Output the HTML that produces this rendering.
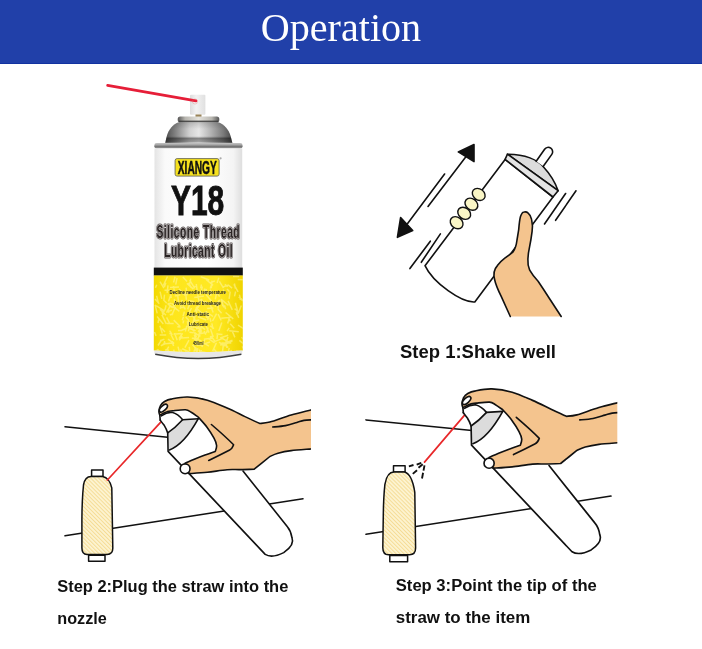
<!DOCTYPE html>
<html><head><meta charset="utf-8"><style>
html,body{margin:0;padding:0;width:702px;height:649px;overflow:hidden;background:#fff}
svg{position:absolute;left:0;top:0;will-change:transform}
</style></head><body>
<svg width="702" height="649" viewBox="0 0 702 649">
<defs>
  <linearGradient id="body" x1="0" x2="1" y1="0" y2="0">
    <stop offset="0" stop-color="#e4e4e4"/><stop offset="0.12" stop-color="#fafafa"/>
    <stop offset="0.6" stop-color="#ffffff"/><stop offset="0.9" stop-color="#f4f4f4"/><stop offset="1" stop-color="#dedede"/>
  </linearGradient>
  <linearGradient id="dome" x1="0" x2="1" y1="0" y2="0">
    <stop offset="0" stop-color="#4a4a4a"/><stop offset="0.14" stop-color="#7c7c7c"/>
    <stop offset="0.36" stop-color="#d0d0d0"/><stop offset="0.5" stop-color="#e6e6e6"/><stop offset="0.66" stop-color="#b8b8b8"/><stop offset="0.86" stop-color="#7a7a7a"/><stop offset="1" stop-color="#444"/>
  </linearGradient>
  <linearGradient id="ring" x1="0" x2="1" y1="0" y2="0">
    <stop offset="0" stop-color="#555"/><stop offset="0.18" stop-color="#b8b6b0"/><stop offset="0.5" stop-color="#e4e2dc"/><stop offset="0.82" stop-color="#b8b6b0"/><stop offset="1" stop-color="#555"/>
  </linearGradient>
  <linearGradient id="yel" x1="0" x2="1" y1="0" y2="0">
    <stop offset="0" stop-color="#f2d800"/><stop offset="0.2" stop-color="#fee61c"/>
    <stop offset="0.7" stop-color="#ffe924"/><stop offset="1" stop-color="#f0d400"/>
  </linearGradient>
  <linearGradient id="domev" x1="0" x2="0" y1="0" y2="1">
    <stop offset="0" stop-color="#000" stop-opacity="0.15"/><stop offset="0.3" stop-color="#000" stop-opacity="0"/>
    <stop offset="0.62" stop-color="#000" stop-opacity="0"/><stop offset="0.72" stop-color="#000" stop-opacity="0.42"/>
    <stop offset="0.86" stop-color="#000" stop-opacity="0.3"/><stop offset="0.95" stop-color="#fff" stop-opacity="0.2"/>
  </linearGradient>
  <linearGradient id="cap" x1="0" x2="1" y1="0" y2="0">
    <stop offset="0" stop-color="#dcdcdc"/><stop offset="0.4" stop-color="#f2f2f2"/><stop offset="1" stop-color="#e0e0e0"/>
  </linearGradient>
  <linearGradient id="rim" x1="0" x2="0" y1="0" y2="1">
    <stop offset="0" stop-color="#c4c4c4"/><stop offset="0.3" stop-color="#a8a8a8"/><stop offset="0.65" stop-color="#727272"/><stop offset="1" stop-color="#a0a0a0"/>
  </linearGradient>
  <pattern id="hatch" width="2.8" height="2.8" patternUnits="userSpaceOnUse" patternTransform="rotate(-45)">
    <rect width="2.8" height="2.8" fill="#fdf4d2"/><rect width="1" height="2.8" fill="#f5dc96"/>
  </pattern>
  <clipPath id="clip3"><rect x="300" y="380" width="317.3" height="200"/></clipPath>
  <clipPath id="yclip"><path d="M153.8,275.6 H242.8 V350.6 Q198.3,353.8 153.8,350.6 Z"/></clipPath>
  <filter id="soft" x="-10%" y="-10%" width="120%" height="120%"><feGaussianBlur stdDeviation="0.45"/></filter>
  <clipPath id="clip2"><rect x="100" y="380" width="211" height="200"/></clipPath>
</defs>

<!-- header -->
<rect x="0" y="0" width="702" height="64" fill="#2140a9"/>
<rect x="0" y="63" width="702" height="1" fill="#1232a0"/>
<text x="260.7" y="40.8" font-family="Liberation Serif" font-size="40.8" fill="#fff" textLength="160.5" lengthAdjust="spacingAndGlyphs">Operation</text>

<!-- ===== product can ===== -->
<rect x="190" y="94.7" width="15.4" height="20" rx="1" fill="url(#cap)"/>
<line x1="107.6" y1="85.4" x2="196" y2="100.9" stroke="#e61e38" stroke-width="2.7" stroke-linecap="round"/>
<circle cx="195" cy="101.5" r="2.6" fill="none" stroke="#e86a6a" stroke-width="0.6" opacity="0.5"/>
<rect x="195.5" y="114.5" width="6" height="2.6" fill="#9a8458"/>
<rect x="177.7" y="116.6" width="41.6" height="6" rx="2.5" fill="url(#ring)"/>
<rect x="179" y="120.6" width="39" height="2" fill="#3a3a3a" opacity="0.85"/>
<path d="M178.8,122.3 L218.1,122.3 C224,124 229,130 230.6,136 L232.8,144.8 L164.8,144.8 L166.8,136 C168.4,130 173,124 178.8,122.3 Z" fill="url(#dome)"/>
<path d="M178.8,122.3 L218.1,122.3 C224,124 229,130 230.6,136 L232.8,144.8 L164.8,144.8 L166.8,136 C168.4,130 173,124 178.8,122.3 Z" fill="url(#domev)"/>
<rect x="154.3" y="143" width="88.3" height="5.6" rx="2.4" fill="url(#rim)"/>
<rect x="154.5" y="148.4" width="87.7" height="203" fill="url(#body)"/>
<!-- logo -->
<rect x="175.1" y="158.6" width="44" height="17.5" rx="2" fill="#f6e11e" stroke="#6a6a5a" stroke-width="0.9"/>
<text x="177.8" y="174" font-family="Liberation Sans" font-weight="bold" font-size="18" fill="#111" stroke="#111" stroke-width="0.5" textLength="39" lengthAdjust="spacingAndGlyphs">XIANGY</text>
<circle cx="220.6" cy="158.3" r="1.1" fill="#aaa"/>
<text x="171" y="215.1" font-family="Liberation Sans" font-weight="bold" font-size="43" fill="#111" stroke="#111" stroke-width="1" textLength="53.2" lengthAdjust="spacingAndGlyphs">Y18</text>
<g font-family="Liberation Sans" font-weight="bold" font-size="14.6">
<g transform="translate(156.4 237.8) scale(0.7 1.27)">
<text x="0" y="0" textLength="118.9" lengthAdjust="spacing" fill="none" stroke="#5e5858" stroke-width="2.3" stroke-linejoin="round">Silicone Thread</text>
<text x="0" y="0" textLength="118.9" lengthAdjust="spacing" fill="#2a2424" stroke="#dcd8d8" stroke-width="0.8" paint-order="stroke" stroke-linejoin="round">Silicone Thread</text>
</g>
<g transform="translate(164.2 257.2) scale(0.7 1.27)">
<text x="0" y="0" textLength="97.7" lengthAdjust="spacing" fill="none" stroke="#5e5858" stroke-width="2.3" stroke-linejoin="round">Lubricant Oil</text>
<text x="0" y="0" textLength="97.7" lengthAdjust="spacing" fill="#2a2424" stroke="#dcd8d8" stroke-width="0.8" paint-order="stroke" stroke-linejoin="round">Lubricant Oil</text>
</g>
</g>
<rect x="153.8" y="267.6" width="89" height="8" fill="#111"/>
<path d="M153.8,275.6 H242.8 V350.6 Q198.3,353.8 153.8,350.6 Z" fill="url(#yel)"/>
<g clip-path="url(#yclip)"><path d="M194.3,318.5l-2.8,8.2 M196.3,322.7l3.5,6.2 M189.3,310.4l0.8,3.3 M170.9,294.4l-2.4,7.1 M198.5,326.3l2.9,7.4 M182.1,293.5l5.6,1.3 M239.3,340.4l4.6,3.8 M204.4,291.1l7.2,4.2 M164.5,294.7l-0.7,6.1 M171.0,331.6l-1.2,2.7 M230.9,350.1l1.0,3.1 M167.0,309.6l2.1,3.0 M205.9,294.5l5.8,6.7 M166.1,305.3l-1.0,4.0 M210.0,318.1l0.9,3.6 M157.4,349.2l3.5,3.7 M169.6,330.7l2.7,4.2 M235.6,291.5l-1.1,4.8 M201.3,350.0l-1.1,7.0 M236.2,312.1l2.6,5.8 M219.0,300.2l-1.1,8.5 M235.4,302.7l2.3,8.8 M205.0,323.5l4.0,9.1 M232.3,331.3l2.6,6.1 M199.8,299.6l4.1,2.6 M155.0,298.9l4.3,4.8 M175.5,306.8l-3.7,8.4 M188.2,320.3l3.4,7.2 M238.6,297.0l4.7,3.2 M200.3,327.1l1.2,4.8 M208.1,327.5l-1.6,5.6 M170.9,334.5l2.8,5.5 M210.1,325.8l4.0,2.7 M217.6,333.4l-0.6,5.7 M224.5,344.9l3.7,2.4 M233.0,276.5l6.2,0.0 M212.0,291.6l-2.3,4.1 M188.7,282.7l2.4,4.9 M161.4,309.5l1.9,5.7 M157.1,316.5l6.2,7.4 M197.8,348.1l-1.3,6.5 M229.1,318.6l-1.5,4.9 M166.6,317.4l3.3,6.5 M156.5,349.7l2.7,2.4 M168.8,346.7l-3.4,5.3 M165.3,309.0l-3.1,5.0 M156.6,295.8l1.9,7.6 M182.7,303.0l7.9,1.6 M216.4,342.8l-3.7,8.3 M201.5,292.6l9.3,0.7 M182.1,299.9l-1.8,9.0 M165.8,282.7l-1.4,4.2 M209.9,336.7l3.8,-0.5 M199.0,333.6l1.1,3.0 M221.8,322.6l-3.0,8.4 M242.1,346.4l2.8,4.5 M195.6,315.2l-1.7,3.9 M194.4,332.2l2.0,4.9 M161.5,340.0l-3.5,5.5 M241.5,337.2l2.8,2.8 M183.4,317.0l-1.1,3.3 M184.4,311.6l-1.3,4.7 M239.6,298.7l6.4,3.9 M216.4,333.9l6.1,0.6 M198.9,333.9l6.7,-1.4 M199.2,349.5l2.1,6.5 M213.5,348.6l4.4,5.2 M207.1,308.6l6.4,-0.6 M178.0,346.6l1.9,7.2 M190.4,328.0l3.5,-0.3 M234.6,308.6l3.1,2.6 M239.4,294.6l1.3,5.3 M167.8,303.6l4.1,3.8 M220.2,338.0l8.0,-2.7 M209.6,303.3l8.3,0.5 M170.9,294.9l0.3,3.1 M177.1,278.0l-1.4,6.7 M210.2,304.4l3.0,8.1 M193.8,338.5l6.1,6.1 M186.8,325.7l-1.5,5.8 M186.9,283.4l6.5,5.7 M195.3,338.6l6.1,2.3 M222.0,300.9l0.8,5.2 M193.2,321.2l6.1,-1.2 M173.7,349.6l1.3,5.4 M189.2,305.5l-1.6,3.9 M221.5,342.9l9.8,0.1 M212.0,337.1l2.7,4.1 M163.4,299.8l3.3,3.4 M173.6,334.2l7.7,-0.7 M197.9,316.8l8.4,3.2 M225.7,339.4l1.2,8.5 M191.5,308.0l-2.4,4.7 M188.7,316.2l7.5,-0.2 M223.1,289.6l2.8,4.3 M171.6,303.3l3.3,2.8 M179.0,289.1l6.2,6.5 M197.1,306.6l-2.4,5.3 M173.4,286.2l1.5,7.5 M175.1,276.8l-1.6,5.7 M222.7,287.0l6.3,-2.1 M158.7,319.5l-0.7,3.5 M178.0,330.5l3.1,-0.1 M170.7,290.7l5.7,3.4 M168.0,339.2l6.2,4.5 M160.0,281.7l3.9,6.5 M155.1,304.7l2.1,8.7 M229.2,330.7l9.6,1.1 M221.2,318.2l9.6,-1.0 M204.1,331.0l1.7,3.6 M210.1,289.6l2.2,4.0 M168.0,285.4l-0.9,7.5 M222.3,338.4l6.3,3.7 M182.3,335.9l-3.1,4.4 M211.9,284.1l-1.7,4.5 M202.0,298.7l-3.9,9.1 M199.9,330.4l-1.6,8.3 M166.1,312.3l5.8,-2.2 M165.0,350.0l4.2,0.2 M220.4,344.2l4.4,1.7 M205.0,339.1l-3.1,7.9 M236.8,351.9l2.1,3.5 M190.7,278.5l-0.7,4.8 M204.6,301.2l6.0,3.9 M195.8,307.3l6.5,6.5 M195.3,344.8l6.3,-2.2 M192.5,344.7l4.8,5.3 M220.9,299.2l7.6,6.2 M196.3,284.0l1.3,9.9 M219.0,342.2l5.8,3.8 M234.4,283.5l1.0,5.0 M218.8,277.8l-1.7,5.2 M206.1,279.5l7.0,5.9 M172.0,341.3l2.1,2.3 M210.5,329.0l2.4,7.2 M181.2,338.1l7.9,-0.5 M237.5,309.8l-1.0,4.8 M218.1,314.1l3.1,6.4 M174.4,298.9l0.8,6.2 M160.8,345.7l5.4,-2.5 M204.6,288.5l0.4,4.3 M233.8,351.1l2.7,2.1 M159.7,335.0l6.5,-0.1 M229.2,328.0l-2.1,3.2 M192.8,326.8l6.3,1.2 M173.7,320.1l6.5,6.4 M170.0,287.5l9.0,-0.5 M156.8,284.7l-1.4,3.1 M191.9,328.9l2.5,2.6 M227.0,289.0l2.4,2.5 M190.5,303.7l-2.3,3.3 M194.5,332.6l5.8,3.7 M196.0,347.1l-2.2,4.6 M164.6,341.0l-0.4,3.2 M189.9,325.4l-1.6,6.0 M189.0,340.1l-4.1,7.5 M225.6,312.5l7.7,6.3 M214.4,341.6l9.0,-3.5 M209.3,315.4l-1.7,4.6 M186.1,287.7l0.4,3.1 M182.7,305.2l2.7,4.3 M208.1,313.1l4.9,3.4 M202.4,286.3l-2.0,8.9 M228.3,316.7l1.9,4.7 M184.7,292.4l7.6,0.9 M160.0,340.8l4.4,-1.5 M210.3,282.8l4.6,-1.9 M216.6,292.8l-1.3,6.5 M220.1,345.0l7.7,-1.7 M156.1,305.7l7.6,4.6 M180.7,330.7l6.4,-2.7 M177.3,326.8l3.2,0.3 M216.9,292.5l2.7,4.1 M227.8,342.9l4.7,-2.0 M186.1,350.3l-1.2,6.5 M236.5,350.5l4.2,6.0 M203.9,339.2l8.6,-1.2 M172.5,306.1l6.9,5.2 M180.1,307.5l5.3,-0.0 M169.8,315.0l3.5,-1.4 M194.2,334.7l1.9,5.1 M189.4,332.2l4.3,0.5 M230.2,291.6l-1.1,7.3 M228.0,336.9l-2.8,9.4 M196.0,328.7l7.3,-1.5 M189.3,346.9l0.4,4.3 M185.7,316.9l2.9,3.1 M160.0,309.3l6.0,5.9 M241.3,305.6l-3.2,8.2 M203.5,344.1l6.6,-2.1 M166.8,323.5l6.9,-0.1 M167.5,276.5l-4.2,9.0 M172.0,341.9l1.6,4.2 M208.9,338.9l5.7,4.0 M237.7,279.6l5.5,0.2 M221.1,299.6l2.8,7.9 M177.6,294.6l1.2,9.5 M196.9,339.8l-2.4,3.9 M188.6,304.1l5.1,-0.6 M159.9,325.7l2.4,7.8 M202.6,327.7l2.5,1.9 M189.6,280.0l4.9,7.8 M182.6,333.3l-3.7,5.3 M223.5,343.5l-1.0,8.4 M200.7,276.8l8.6,3.2 M230.2,323.8l4.1,4.4 M195.6,339.6l2.3,6.3 M194.2,297.6l9.8,-1.5 M219.7,299.8l-4.7,6.8 M233.9,284.4l4.2,7.5 M199.5,351.5l6.1,1.1 M201.7,341.8l7.3,4.4 M197.7,294.4l1.6,8.4 M167.5,303.8l3.8,-0.5 M170.2,305.5l-2.7,6.2 M182.2,348.7l7.2,3.3 M229.2,347.9l-1.5,7.7 M195.5,285.8l-1.7,2.6 M160.1,291.6l1.7,7.2 M191.8,338.3l6.6,0.0 M191.2,313.4l4.0,6.6 M194.5,347.0l2.2,5.1 M183.7,320.4l-0.7,3.0 M187.4,321.1l1.1,6.7 M162.8,344.1l9.9,-1.1 M226.6,342.4l5.9,-2.3 M212.0,280.6l-0.7,7.5 M216.4,351.8l-2.1,6.3 M206.0,313.8l0.7,4.1 M211.8,323.3l1.3,5.9 M167.9,304.2l5.7,3.6 M201.5,284.5l-0.9,3.8 M161.9,314.9l4.4,8.9 M206.4,288.9l-0.6,4.0 M204.2,289.2l1.3,4.4 M224.9,284.3l2.8,2.5 M180.8,349.4l1.2,4.3 M201.8,325.9l-3.7,5.9 M198.6,344.7l3.5,0.7 M224.5,305.2l1.1,4.0 M188.0,300.5l6.3,1.2 M174.5,333.0l2.7,7.3 M185.8,294.7l0.6,5.2 M198.3,315.2l8.1,-3.0 M238.0,325.2l8.4,5.2 M228.0,300.9l4.3,9.0 M197.6,306.0l-1.1,7.0 M154.5,332.0l1.6,3.9 M161.4,328.1l3.6,3.8 M219.4,281.4l4.1,6.8 M189.3,328.5l6.4,2.1 M228.7,285.4l3.4,2.7 M216.6,313.6l-4.1,7.4 M182.8,277.1l4.3,4.4 M206.4,311.1l1.6,7.7 M174.8,295.9l5.5,-1.2 M217.8,308.9l3.8,4.3 M164.5,290.2l7.0,0.0 M203.1,301.3l2.4,4.1 M167.9,350.9l-3.2,6.3" stroke="#fff7a0" stroke-width="1.5" opacity="0.55" fill="none" filter="url(#soft)"/></g>
<g font-family="Liberation Sans" font-weight="bold" font-size="4.6" fill="#222">
<text x="169.6" y="294" textLength="56.4" lengthAdjust="spacingAndGlyphs">Decline needle temperature</text>
<text x="174" y="304.8" textLength="47" lengthAdjust="spacingAndGlyphs">Avoid thread breakage</text>
<text x="186.5" y="315.6" textLength="22.5" lengthAdjust="spacingAndGlyphs">Anti-static</text>
<text x="188.7" y="325.6" textLength="19.3" lengthAdjust="spacingAndGlyphs">Lubricate</text>
<text x="193" y="344.6" textLength="10.5" lengthAdjust="spacingAndGlyphs">450ml</text>
</g>
<path d="M154.4,350.4 Q198.3,354 242.2,350.4 L242.2,353.8 Q198.3,362.5 154.4,353.8 Z" fill="#e6e6e6"/>
<path d="M155.2,354.2 Q198.3,362.6 241.4,354.2" fill="none" stroke="#3c3c3c" stroke-width="1.5"/>

<!-- ===== step 1 illustration ===== -->
<g stroke="#111" stroke-width="1.6" fill="none" stroke-linecap="round" stroke-linejoin="round">
  <!-- can body -->
  <path d="M505.1,159.4 L425,265.7 C433,283 462,303 474.8,302 L553,197 Z" fill="#fff"/>
  <!-- dome -->
  <path d="M507.4,154.2 C525,154 538,160 543.3,166.8 C550,174 555,182 558.1,190.7 Z" fill="#dcdcdc"/>
  <!-- band -->
  <path d="M507.4,154.2 L558.1,190.7 L553,197 L505.1,159.4 Z" fill="#e4e4e4"/>
  <!-- stem -->
  <path d="M536.2,161.3 L544.6,149.2 A4.4,4.4 0 0 1 551.8,154.4 L543.3,166.2" fill="#fff"/>
  <!-- beads -->
  <g fill="#faf6c6" stroke-width="1.4">
    <ellipse cx="478.7" cy="194.4" rx="6.9" ry="5.5" transform="rotate(38 478.7 194.4)"/>
    <ellipse cx="471.4" cy="204.2" rx="6.9" ry="5.5" transform="rotate(38 471.4 204.2)"/>
    <ellipse cx="464.2" cy="213.3" rx="6.9" ry="5.5" transform="rotate(38 464.2 213.3)"/>
    <ellipse cx="456.6" cy="222.7" rx="6.9" ry="5.5" transform="rotate(38 456.6 222.7)"/>
  </g>
  <!-- arrow -->
  <line x1="465.7" y1="157" x2="428" y2="206.4"/>
  <line x1="444.6" y1="174" x2="407.6" y2="223.4"/>
  <path d="M474,144.5 L458.3,151.9 L474,161.6 Z" fill="#111"/>
  <path d="M400.6,217.6 L412.7,230.6 L397.4,237.3 Z" fill="#111"/>
  <!-- motion lines -->
  <line x1="430.3" y1="241.2" x2="409.9" y2="268.6"/>
  <line x1="440.4" y1="233.9" x2="421.3" y2="262.3"/>
  <line x1="544.5" y1="224" x2="565.6" y2="193.5"/>
  <line x1="555.6" y1="220.3" x2="576" y2="190.8"/>
  <!-- hand -->
  <path d="M510.3,316.5 L501.1,296.1 Q496,286 494.6,279.5 Q492.5,271 497.4,265.6 Q501,261 504.8,258.2 Q510,254.5 513.1,251.8 Q516,248 517,240 L518.7,229.6 Q519.5,220 520.5,216.6 Q522,212 524.2,212 Q526.5,211.5 527.9,212.9 Q531,215.5 531.6,219.4 Q533,226 532.1,231.4 Q531,240 529.7,246.2 Q528,254 527.9,259.1 Q527.5,265 529.7,270.2 Q533,276 538.1,281.3 Q544,290 549.1,298 L561.2,316.5" fill="#f4c48e"/>
</g>

<!-- ===== step 2 illustration ===== -->
<g stroke="#111" stroke-width="1.55" fill="none" stroke-linecap="round" stroke-linejoin="round">
  <line x1="65" y1="426.8" x2="170" y2="437.6"/>
  <line x1="65" y1="535.8" x2="303" y2="498.8"/>
  <!-- spool -->
  <rect x="91.6" y="469.9" width="11.4" height="6.7" fill="#fff" stroke-width="1.5"/>
  <rect x="88.6" y="555.2" width="16.4" height="6" fill="#fff" stroke-width="1.5"/>
  <path d="M83.5,485 Q85,476.6 91,476.6 L102.7,476.6 Q109.5,478 111.8,488 L112.8,548.2 Q112.8,554.4 107,554.4 L87,554.4 Q81.9,554.4 81.9,548 L81.9,519 Q82,500 83.5,485 Z" fill="url(#hatch)" stroke-width="1.5"/>
  <line x1="107.4" y1="480" x2="161" y2="421.8" stroke="#e8282a" stroke-width="1.7"/>
</g>
<g id="hand2" stroke="#111" stroke-width="1.6" fill="none" stroke-linecap="round" stroke-linejoin="round">
  <path d="M160.2,420.1 Q163,424 164.1,425.1 Q166.5,429 167.7,432.9 L168.1,451.4 L265.2,554.4 Q272,558.5 283.7,552.6 Q295,545 292,537.8 Q291,531 287.4,526.7 L243,471.1 L215.3,451.4 L216.6,447.4 L198.3,417.2 L185.5,409.8 L172,412.3 Z" fill="#fff" stroke="none"/>
  <path d="M182.6,419.7 L198.3,418.7 Q184,444.6 169.4,450 L167.9,442.9 L167.7,432.9 Z" fill="#dcdcdc" stroke="none"/>
  <path d="M160.2,420.1 Q163,424 164.1,425.1 Q166.5,429 167.7,432.9 L168.1,451.4 L265.2,554.4 Q272,558.5 283.7,552.6 Q295,545 292,537.8 Q291,531 287.4,526.7 L243,471.1"/>
  <path d="M159.8,415.1 L160.2,420.1"/>
  <path d="M161.3,415.8 Q166,412.5 172,412.3 Q178,414 182.6,419.7 L198.3,418.7"/>
  <path d="M182.6,419.7 Q175,428 167.7,432.9"/>
  <path d="M198.3,418.7 Q184,444.6 169.4,450"/>
  <g clip-path="url(#clip2)">
  <path d="M159.8,415.1 C159.7,414.5 158.8,413.1 158.9,411.5 C159.0,409.9 159.6,407.2 160.5,405.5 C161.4,403.8 162.6,402.6 164.5,401.5 C166.4,400.4 168.1,399.6 172.0,398.9 C175.9,398.1 181.9,396.8 187.8,397.0 C193.7,397.2 200.9,398.3 207.4,400.2 C213.9,402.1 220.8,405.4 227.1,408.1 C233.4,410.8 239.5,414.0 245.0,416.6 C250.5,419.2 257.4,422.4 259.9,423.5 C261.6,423.3 264.7,423.5 269.9,422.1 C275.1,420.7 284.3,417.0 291.2,415.0 C298.1,413.0 307.7,410.8 311.0,409.9 C311.8,409.7 315.2,402.2 316.0,408.6 C316.8,415.1 316.8,441.9 316.0,448.6 C315.2,455.3 311.8,448.8 311.0,448.9 C307.7,449.2 296.7,449.9 291.2,450.6 C285.7,451.3 281.6,452.2 278.0,453.2 C274.4,454.2 271.2,455.9 269.9,456.5 C267.3,458.6 256.8,467.0 254.2,469.1 C251.8,469.2 244.5,469.5 240.0,469.6 C235.5,469.7 232.5,469.2 227.1,469.7 C221.7,470.1 213.7,471.6 207.4,472.3 C201.1,473.0 192.2,473.4 189.1,473.6 C188.4,471.9 185.8,464.9 185.1,463.2 C186.6,462.5 191.0,460.6 194.3,459.2 C197.6,457.8 201.5,456.3 205.0,455.0 C208.5,453.7 213.6,452.0 215.3,451.4 C215.5,450.4 216.8,447.7 216.6,445.5 C216.4,443.3 215.6,441.2 214.0,438.2 C212.4,435.1 209.6,430.7 207.0,427.2 C204.4,423.7 199.8,418.9 198.3,417.2 C197.1,416.4 193.3,413.5 191.2,412.3 C189.1,411.1 188.6,410.1 185.5,409.8 C182.4,409.6 175.7,410.5 172.7,410.8 C169.7,411.1 169.8,410.8 167.7,411.5 C165.5,412.2 161.1,414.5 159.8,415.1 Z" fill="#f4c48e"/>
  <path d="M211.4,424.5 Q226,437 233.6,444.8 Q232,449 229.7,450 Q218,456 208.7,460.5"/>
  <path d="M272.7,427.0 C274.8,426.8 281.5,426.4 285.5,425.6 C289.5,424.8 293.8,423.3 296.9,422.4 C300.0,421.5 301.5,420.8 304.0,420.4 C306.5,420.0 310.7,419.9 312.0,419.8"/>
  </g>
  <ellipse cx="163.4" cy="408.2" rx="5" ry="2.4" transform="rotate(-43 163.4 408.2)" fill="#fff"/>
  <circle cx="185.1" cy="468.8" r="4.9" fill="#fff"/>
</g>

<!-- ===== step 3 illustration ===== -->
<g stroke="#111" stroke-width="1.55" fill="none" stroke-linecap="round" stroke-linejoin="round">
  <line x1="366" y1="419.9" x2="472" y2="430.5"/>
  <line x1="366" y1="534.3" x2="611" y2="496.1"/>
  <rect x="393.5" y="465.7" width="11.6" height="6.4" fill="#fff" stroke-width="1.5"/>
  <rect x="389.8" y="555.4" width="17.8" height="6.4" fill="#fff" stroke-width="1.5"/>
  <path d="M384.9,484.3 Q387,472.1 394,472.1 L404.5,472.1 Q412,474 414.8,492.4 L415.6,548 Q415.6,554.7 409.5,554.7 L388.5,554.7 Q382.8,554.7 382.8,547.4 L383.3,515 Q383.5,497 384.9,484.3 Z" fill="url(#hatch)" stroke-width="1.5"/>
  <line x1="424.5" y1="462.1" x2="465" y2="414.6" stroke="#e8282a" stroke-width="1.7"/>
  <g stroke-width="1.9" stroke-linecap="butt">
    <line x1="408.9" y1="466.4" x2="413.5" y2="465"/><line x1="416.7" y1="464.6" x2="421.3" y2="462.8"/>
    <line x1="412.8" y1="473.9" x2="417" y2="470.3"/><line x1="418.5" y1="467.8" x2="422.7" y2="464.2"/>
    <line x1="422" y1="478.5" x2="423.1" y2="472.8"/><line x1="423.5" y1="470.7" x2="424.5" y2="465.3"/>
  </g>
</g>
<g clip-path="url(#clip3)"><use href="#hand2" transform="translate(489.1 463.4) scale(1.035) translate(-185.1 -469)"/></g>

<!-- step texts -->
<g font-family="Liberation Sans" font-weight="bold" fill="#111" lengthAdjust="spacingAndGlyphs">
<text x="400" y="357.6" font-size="18" textLength="156" lengthAdjust="spacingAndGlyphs">Step 1:Shake well</text>
<text x="57.3" y="592" font-size="16" textLength="231" lengthAdjust="spacingAndGlyphs">Step 2:Plug the straw into the</text>
<text x="57.3" y="624" font-size="16" textLength="49.5" lengthAdjust="spacingAndGlyphs">nozzle</text>
<text x="395.8" y="591.4" font-size="16" textLength="201" lengthAdjust="spacingAndGlyphs">Step 3:Point the tip of the</text>
<text x="395.8" y="623.4" font-size="16" textLength="134.5" lengthAdjust="spacingAndGlyphs">straw to the item</text>
</g>
</svg>
</body></html>
